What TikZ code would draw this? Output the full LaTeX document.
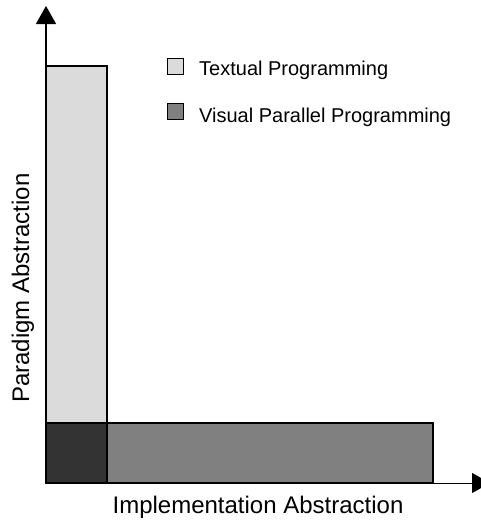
\documentclass[tikz,border=0pt]{standalone}
\usepackage{fontspec}
\setmainfont{Liberation Sans}
\usetikzlibrary{positioning, arrows.meta}
\definecolor{textual}{RGB}{219,219,219}
\definecolor{visual}{RGB}{128,128,128}
\definecolor{overlap}{RGB}{51,51,51}

\begin{document}
\begin{tikzpicture}[x=1pt, y=-1pt,
  bar/.style={draw=black, line width=1.3pt},
  key/.style={draw=black, line width=1pt, minimum size=16pt, inner sep=0pt},
  keylab/.style={font=\fontsize{20}{24}\selectfont, anchor=base west, inner sep=0pt},
  axlab/.style={font=\fontsize{24}{28}\selectfont, anchor=base, inner sep=0pt},
  axis/.style={line width=1.4pt, -{Triangle[length=18pt, width=20pt]}}]
\useasboundingbox (0,0) rectangle (481,520);
\coordinate (o) at (46,483);
\coordinate (ytip) at (46,6);
\coordinate (xtip) at (490,483);
% bars
\fill[textual] (46,66) rectangle (107,423);
\draw[bar] (46,66) rectangle (107,423);
\draw[bar, fill=visual] (107,423) rectangle (433,483);
\draw[bar, fill=overlap] (46,423) rectangle (107,483);
% axes
\draw[axis, line width=1pt] (o) -- (xtip);
\draw[axis] (o) -- (ytip);
\node[axlab] (xlab) at (258,513) {Implementation Abstraction};
\node[axlab, rotate=90] (ylab) at (29,288) {Paradigm Abstraction};
% legend
\node[key, fill=textual] (ktext) at (175,66) {};
\node[key, fill=visual] (kvis) at (175,111) {};
\node[keylab] (ltext) at (199,75) {Textual Programming};
\node[keylab] (lvis) at (199,122) {Visual Parallel Programming};
\end{tikzpicture}
\end{document}
